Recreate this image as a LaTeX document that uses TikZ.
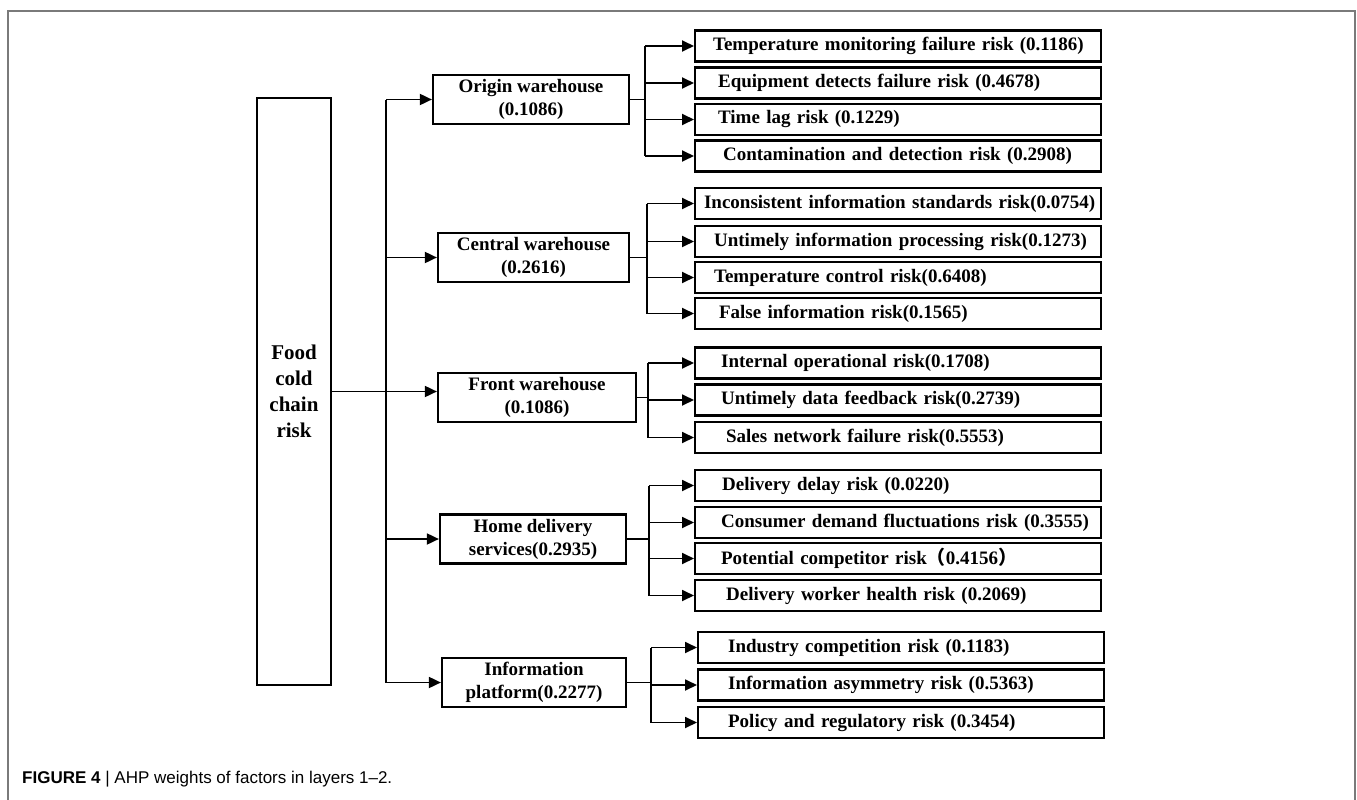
\documentclass[tikz,border=0pt]{standalone}
\usepackage{fontspec}
\setmainfont{Liberation Serif}
\setsansfont{Liberation Sans}
\newfontfamily\cjk{Noto Sans CJK SC}
\usetikzlibrary{arrows.meta}
\definecolor{FrameGray}{HTML}{7A7A7A}

\begin{document}
\begin{tikzpicture}[x=1pt, y=-1pt,
  rootbox/.style = {draw, line width=2.2pt, align=center, inner sep=0pt,
                    font=\fontsize{21}{26}\selectfont\bfseries},
  mid/.style     = {draw, line width=2.2pt, minimum height=49pt, align=center,
                    inner sep=2pt, font=\fontsize{19}{23}\selectfont\bfseries},
  leaf/.style    = {draw, line width=2.2pt, anchor=west, minimum height=31pt,
                    inner sep=0pt, text width=406pt, align=left,
                    font=\fontsize{19}{23}\selectfont\bfseries,
                    execute at begin node={\noindent\hspace*{#1}}},
  leaf/.default  = 22pt,
  arr/.style     = {-{Triangle[length=12pt,width=11pt]}, line width=1.8pt},
  ln/.style      = {line width=1.8pt}
]
  \useasboundingbox (0,0) rectangle (1357,800);
  \draw[FrameGray, line width=1.5pt] (8,800) -- (8,11) -- (1355,11) -- (1355,800);

  \node[rootbox, minimum width=74pt, minimum height=587pt] (root) at (294,391.5)
    {Food\\cold\\chain\\risk};

  % layer 1
  \node[mid, minimum width=196pt] (orig)  at (531,99.5)  {Origin warehouse\\(0.1086)};
  \node[mid, minimum width=191pt] (cent)  at (533.5,257.5) {Central warehouse\\(0.2616)};
  \node[mid, minimum width=198pt] (front) at (537,397.5) {Front warehouse\\(0.1086)};
  \node[mid, minimum width=186pt] (home)  at (533,539)   {Home delivery\\services(0.2935)};
  \node[mid, minimum width=184pt] (plat)  at (534,682.5) {Information\\platform(0.2277)};

  % layer 2
  \node[leaf=18pt] (o1) at (694,46)    {Temperature monitoring failure risk (0.1186)};
  \node[leaf=23pt] (o2) at (694,83)    {Equipment detects failure risk (0.4678)};
  \node[leaf=23pt] (o3) at (694,119.5) {Time lag risk (0.1229)};
  \node[leaf=28pt] (o4) at (694,156)   {Contamination and detection risk (0.2908)};

  \node[leaf=9pt]  (c1) at (694,203.5) {Inconsistent information standards risk(0.0754)};
  \node[leaf=19pt] (c2) at (694,241.5) {Untimely information processing risk(0.1273)};
  \node[leaf=19pt] (c3) at (694,277.5) {Temperature control risk(0.6408)};
  \node[leaf=24pt] (c4) at (694,313.5) {False information risk(0.1565)};

  \node[leaf=26pt] (f1) at (694,363)   {Internal operational risk(0.1708)};
  \node[leaf=26pt] (f2) at (694,400)   {Untimely data feedback risk(0.2739)};
  \node[leaf=31pt] (f3) at (694,437.5) {Sales network failure risk(0.5553)};

  \node[leaf=27pt] (h1) at (694,485.5) {Delivery delay risk (0.0220)};
  \node[leaf=26pt] (h2) at (694,522.5) {Consumer demand fluctuations risk (0.3555)};
  \node[leaf=26pt] (h3) at (694,558.5) {Potential competitor risk{\cjk （}0.4156{\cjk ）}};
  \node[leaf=31pt] (h4) at (694,595.5) {Delivery worker health risk (0.2069)};

  \node[leaf=30pt] (p1) at (697,647.5) {Industry competition risk (0.1183)};
  \node[leaf=30pt] (p2) at (697,685)   {Information asymmetry risk (0.5363)};
  \node[leaf=30pt] (p3) at (697,722.5) {Policy and regulatory risk (0.3454)};

  % trunk and branch points
  \coordinate (trunk) at (386,101);
  \coordinate (obr) at (645,0);
  \coordinate (cbr) at (647,0);
  \coordinate (fbr) at (648,0);
  \coordinate (hbr) at (649,0);
  \coordinate (pbr) at (651,0);

  \draw[ln] (orig.west -| trunk) -- (plat.west -| trunk);
  \draw[arr] (root.east) -- (root.east -| front.west);
  \foreach \mymid in {orig,cent,home,plat}{
    \draw[arr] (\mymid.west -| trunk) -- (\mymid.west);
  }

  \draw[ln] (orig.east) -- (orig.east -| obr);
  \draw[ln] (obr |- o1.west) -- (obr |- o4.west);
  \foreach \myleaf in {o1,o2,o3,o4}{
    \draw[arr] (obr |- \myleaf.west) -- (\myleaf.west);
  }
  \draw[ln] (cent.east) -- (cent.east -| cbr);
  \draw[ln] (cbr |- c1.west) -- (cbr |- c4.west);
  \foreach \myleaf in {c1,c2,c3,c4}{
    \draw[arr] (cbr |- \myleaf.west) -- (\myleaf.west);
  }
  \draw[ln] (front.east) -- (front.east -| fbr);
  \draw[ln] (fbr |- f1.west) -- (fbr |- f3.west);
  \foreach \myleaf in {f1,f2,f3}{
    \draw[arr] (fbr |- \myleaf.west) -- (\myleaf.west);
  }
  \draw[ln] (home.east) -- (home.east -| hbr);
  \draw[ln] (hbr |- h1.west) -- (hbr |- h4.west);
  \foreach \myleaf in {h1,h2,h3,h4}{
    \draw[arr] (hbr |- \myleaf.west) -- (\myleaf.west);
  }
  \draw[ln] (plat.east) -- (plat.east -| pbr);
  \draw[ln] (pbr |- p1.west) -- (pbr |- p3.west);
  \foreach \myleaf in {p1,p2,p3}{
    \draw[arr] (pbr |- \myleaf.west) -- (\myleaf.west);
  }

  \node[anchor=base west, inner sep=0pt, font=\sffamily\fontsize{17}{20}\selectfont]
    (cap) at (22,783) {\textbf{FIGURE 4} | AHP weights of factors in layers 1–2.};
\end{tikzpicture}
\end{document}
